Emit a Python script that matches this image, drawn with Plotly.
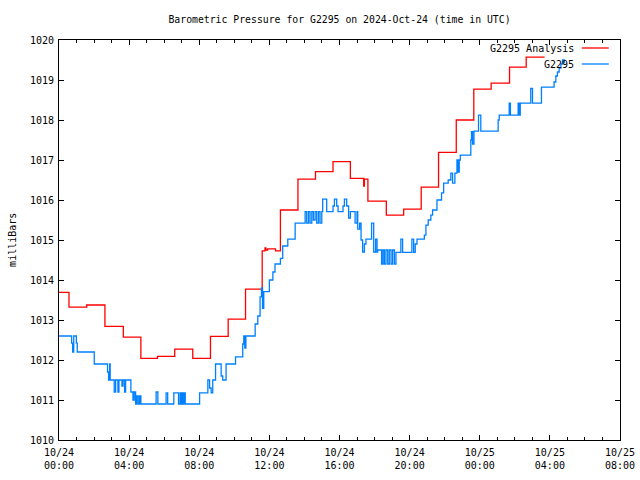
import pandas as pd
import plotly.graph_objects as go

# ---- data (hours after 2024-10-24 00:00 UTC, pressure in mb) ----
analysis_hours = [0.00, 0.57, 1.58, 2.62, 3.67, 4.67, 5.62, 6.60, 7.63, 8.64, 9.65, 10.64,
                  11.59, 11.75, 11.80, 11.90, 12.35, 12.63, 13.63, 14.63, 15.63, 16.62,
                  17.38, 17.42, 17.62, 18.67, 19.66, 20.66, 21.65, 22.66, 23.66, 24.65,
                  25.70, 26.65, 27.70]
analysis_mb = [1013.69, 1013.32, 1013.375, 1012.84, 1012.57, 1012.04, 1012.09, 1012.27, 1012.04,
               1012.59, 1013.02, 1013.77, 1014.73, 1014.80, 1014.75, 1014.78, 1014.73, 1015.75,
               1016.52, 1016.71, 1016.96, 1016.54, 1016.35, 1016.52, 1015.97, 1015.62, 1015.77,
               1016.32, 1017.19, 1018.00, 1018.77, 1018.92, 1019.32, 1019.57, 1019.57]

obs_hours = [0.00, 0.72, 0.78, 0.84, 0.99, 1.04, 2.01, 2.77, 2.83, 2.89, 2.92, 3.15, 3.23, 3.36,
             3.42, 3.59, 3.65, 3.74, 3.80, 4.10, 4.22, 4.29, 4.37, 4.44, 4.52, 4.60, 4.67, 5.54,
             5.64, 6.11, 6.20, 6.55, 6.82, 6.91, 6.97, 7.03, 7.08, 7.14, 7.20, 8.02, 8.49, 8.59,
             8.68, 8.77, 8.93, 9.25, 9.34, 9.53, 10.07, 10.48, 10.54, 10.60, 10.66, 11.19, 11.34,
             11.47, 11.55, 11.61, 11.68, 12.00, 12.20, 12.32, 12.63, 12.76, 13.05, 13.47, 14.04,
             14.13, 14.23, 14.32, 14.42, 14.51, 14.61, 14.70, 14.80, 14.89, 14.99, 15.04, 15.27,
             15.63, 15.71, 15.84, 15.92, 16.20, 16.28, 16.41, 16.52, 16.62, 16.89, 17.00, 17.04,
             17.15, 17.23, 17.32, 17.42, 17.51, 17.83, 17.95, 18.06, 18.14, 18.18, 18.40, 18.48,
             18.56, 18.65, 18.75, 18.84, 18.94, 19.03, 19.13, 19.22, 19.50, 19.60, 20.13, 20.23,
             20.32, 20.42, 20.84, 20.93, 21.06, 21.21, 21.31, 21.56, 21.82, 21.94, 22.20, 22.35,
             22.45, 22.58, 22.70, 22.77, 22.83, 22.89, 23.49, 23.53, 23.59, 23.67, 23.93, 24.06,
             25.05, 25.11, 25.68, 25.75, 26.19, 26.25, 26.31, 26.91, 27.01, 27.52, 28.24, 28.34,
             28.43, 28.53, 28.63, 28.72, 28.83]
obs_mb = [1012.60, 1012.42, 1012.20, 1012.60, 1012.42, 1012.20, 1011.90, 1011.70, 1011.50, 1011.90,
          1011.50, 1011.20, 1011.50, 1011.20, 1011.50, 1011.35, 1011.50, 1011.20, 1011.50, 1011.20,
          1011.00, 1011.20, 1010.90, 1011.10, 1010.90, 1011.10, 1010.90, 1011.20, 1010.90, 1011.18,
          1010.90, 1011.18, 1010.90, 1011.18, 1010.90, 1011.18, 1010.90, 1011.18, 1010.90, 1011.18,
          1011.50, 1011.30, 1011.18, 1011.50, 1011.90, 1011.60, 1011.50, 1011.90, 1012.08, 1012.40,
          1012.60, 1012.30, 1012.60, 1012.90, 1013.10, 1013.58, 1013.80, 1013.29, 1013.71, 1014.00,
          1014.20, 1014.40, 1014.54, 1014.85, 1015.02, 1015.42, 1015.71, 1015.42, 1015.71, 1015.42,
          1015.71, 1015.50, 1015.71, 1015.42, 1015.71, 1015.42, 1015.71, 1016.02, 1015.71, 1015.85,
          1016.02, 1015.85, 1015.71, 1015.85, 1016.02, 1015.85, 1015.55, 1015.71, 1015.42, 1015.71,
          1015.27, 1015.42, 1015.00, 1014.70, 1014.90, 1015.02, 1015.42, 1014.70, 1015.02, 1014.70,
          1014.75, 1014.40, 1014.75, 1014.40, 1014.75, 1014.40, 1014.75, 1014.40, 1014.75, 1014.40,
          1014.69, 1015.02, 1014.69, 1015.02, 1014.69, 1014.90, 1015.02, 1015.12, 1015.37, 1015.50,
          1015.62, 1015.75, 1016.00, 1016.18, 1016.42, 1016.50, 1016.67, 1016.42, 1016.67, 1017.00,
          1016.70, 1017.00, 1017.12, 1017.50, 1017.71, 1017.40, 1017.72, 1018.12, 1017.72, 1018.00,
          1018.12, 1018.42, 1018.12, 1018.42, 1018.12, 1018.42, 1018.79, 1018.42, 1018.82, 1018.95,
          1019.10, 1019.20, 1019.30, 1019.40, 1019.50, 1019.42]

x_tick_values = ["2024-10-24 00:00", "2024-10-24 04:00", "2024-10-24 08:00", "2024-10-24 12:00",
                 "2024-10-24 16:00", "2024-10-24 20:00", "2024-10-25 00:00", "2024-10-25 04:00",
                 "2024-10-25 08:00"]
x_tick_labels = ["10/24<br>00:00", "10/24<br>04:00", "10/24<br>08:00", "10/24<br>12:00",
                 "10/24<br>16:00", "10/24<br>20:00", "10/25<br>00:00", "10/25<br>04:00",
                 "10/25<br>08:00"]
y_tick_values = [1010, 1011, 1012, 1013, 1014, 1015, 1016, 1017, 1018, 1019, 1020]

base = pd.Timestamp("2024-10-24 00:00")
ana_t = base + pd.to_timedelta(analysis_hours, unit="h")
obs_t = base + pd.to_timedelta(obs_hours, unit="h")

FONT = "DejaVu Sans Mono"
RED = "#ff0000"
BLUE = "#0080ff"

fig = go.Figure()
fig.add_trace(go.Scatter(x=ana_t, y=analysis_mb, mode="lines", line_shape="hv",
                         line=dict(color=RED, width=1.3), name="G2295 Analysis"))
fig.add_trace(go.Scatter(x=obs_t, y=obs_mb, mode="lines", line_shape="hv",
                         line=dict(color=BLUE, width=1.3), name="G2295"))

fig.update_layout(
    width=640, height=480,
    margin=dict(l=59, r=20, t=40, b=40, autoexpand=False),
    paper_bgcolor="white", plot_bgcolor="white",
    showlegend=False,
    font=dict(family=FONT, size=10, color="black"),
    title=dict(text="Barometric Pressure for G2295 on 2024-Oct-24 (time in UTC)",
               x=0.5, xanchor="center", xref="paper",
               y=1 - 20 / 480, yref="container", yanchor="middle",
               font=dict(family=FONT, size=9.8, color="black")),
)
fig.update_xaxes(
    type="date", range=["2024-10-24 00:00", "2024-10-25 08:00"],
    tickvals=x_tick_values, ticktext=x_tick_labels,
    showgrid=False, zeroline=False, automargin=False,
    showline=True, linecolor="black", linewidth=1, mirror="ticks",
    ticks="inside", ticklen=5, tickcolor="black", ticklabelstandoff=3,
    minor=dict(dtick=3600000, ticks="inside", ticklen=3, tickcolor="black", showgrid=False),
    tickfont=dict(family=FONT, size=10),
)
fig.update_yaxes(
    range=[1010, 1020], tickvals=y_tick_values,
    showgrid=False, zeroline=False, automargin=False,
    showline=True, linecolor="black", linewidth=1, mirror="ticks",
    ticks="inside", ticklen=5, tickcolor="black", ticklabelstandoff=2,
    tickfont=dict(family=FONT, size=10),
)

# y-axis label
fig.add_annotation(xref="paper", yref="paper", x=-0.084, y=0.5, xanchor="center", yanchor="middle",
                   text="milliBars", textangle=-90, showarrow=False, font=dict(family=FONT, size=10))

# key (text right-aligned, sample line to its right, as in the reference)
fig.add_annotation(xref="paper", yref="paper", x=0.922, y=0.98, xanchor="right", yanchor="middle",
                   text="G2295 Analysis", showarrow=False, font=dict(family=FONT, size=10))
fig.add_annotation(xref="paper", yref="paper", x=0.922, y=0.94, xanchor="right", yanchor="middle",
                   text="G2295", showarrow=False, font=dict(family=FONT, size=10))
fig.add_shape(type="line", xref="paper", yref="paper", x0=0.932, x1=0.980, y0=0.98, y1=0.98,
              line=dict(color=RED, width=1.3))
fig.add_shape(type="line", xref="paper", yref="paper", x0=0.932, x1=0.980, y0=0.94, y1=0.94,
              line=dict(color=BLUE, width=1.3))

fig.write_html("out.html", config={"displayModeBar": False},
               post_script="document.body.style.margin='0px';document.body.style.overflow='hidden';")
